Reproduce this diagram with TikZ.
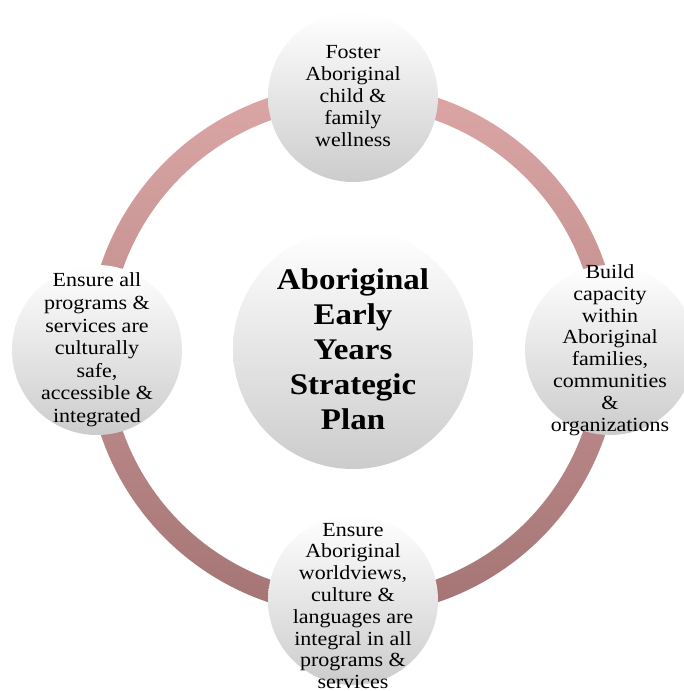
\documentclass[tikz,border=0pt]{standalone}
\usepackage{fontspec}
\setmainfont{Liberation Serif}[FakeStretch=1.1]
\definecolor{ringtop}{HTML}{DCA6A6}
\definecolor{ringbot}{HTML}{A47474}
\definecolor{ballgray}{HTML}{CCCCCC}
\begin{document}
\begin{tikzpicture}[x=1pt,y=-1pt,
  ball/.style={circle, minimum size=#1, inner sep=0pt, draw=none,
               top color=white, bottom color=ballgray},
  txt/.style={align=center, inner sep=0pt, font=\fontsize{20}{21.8}\selectfont},
  bigtxt/.style={align=center, inner sep=0pt, font=\fontsize{30}{35}\selectfont\bfseries}]
\useasboundingbox (0,0) rectangle (683,691);
\coordinate (ctr) at (353,350);
% ring
\shade[even odd rule, top color=ringtop, bottom color=ringbot]
  (ctr) circle (266) (ctr) circle (244);
% circles
\node[ball=240] (mid) at (353,349) {};
\node[ball=170] (topc) at (353,97) {};
\node[ball=170] (rgtc) at (610,350) {};
\node[ball=170] (lftc) at (97,350) {};
\node[ball=170] (botc) at (353,600) {};
% texts
\node[bigtxt] (midt) at (mid) {Aboriginal\\Early\\Years\\Strategic\\Plan};
\node[txt] (topt) at (353,96) {Foster\\Aboriginal\\child \&\\family\\wellness};
\node[txt] (rgtt) at (610,350) {Build\\capacity\\within\\Aboriginal\\families,\\communities\\\&\\organizations};
\node[txt, font=\fontsize{20}{22.6}\selectfont] (lftt) at (97,350) {Ensure all\\programs \&\\services are\\culturally\\safe,\\accessible \&\\integrated};
\node[txt] (bott) at (353,606) {Ensure\\Aboriginal\\worldviews,\\culture \&\\languages are\\integral in all\\programs \&\\services};
\end{tikzpicture}
\end{document}
